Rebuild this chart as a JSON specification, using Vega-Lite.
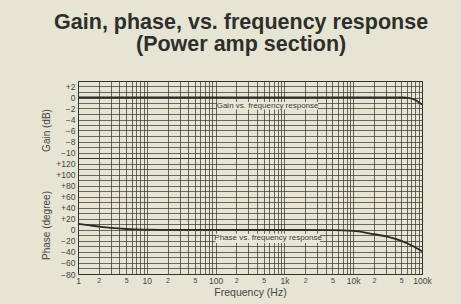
{
  "$schema": "https://vega.github.io/schema/vega-lite/v6.json",
  "autosize": {"type": "pad"},
  "padding": {"left": 40, "top": 12, "right": 40, "bottom": 5},
  "background": "#e6e4d3",
  "bounds": "flush",
  "title": {
    "text": ["Gain, phase, vs. frequency response", "(Power amp section)\u00a0\u00a0\u00a0\u00a0"],
    "font": "Liberation Sans",
    "fontSize": 21.5,
    "fontWeight": "bold",
    "color": "#2e2e2b",
    "lineHeight": 22,
    "anchor": "middle",
    "dx": 5,
    "offset": 21
  },
  "datasets": {
    "gain": [
      {"f": 1, "g": 0}, {"f": 10, "g": 0}, {"f": 100, "g": 0}, {"f": 1000, "g": 0},
      {"f": 10000, "g": 0}, {"f": 30000, "g": 0}, {"f": 55000, "g": 0},
      {"f": 63000, "g": -0.05}, {"f": 70000, "g": -0.18}, {"f": 80000, "g": -0.45},
      {"f": 90000, "g": -0.85}, {"f": 100000, "g": -1.3}
    ],
    "phase": [
      {"f": 1, "p": 11}, {"f": 1.5, "p": 8}, {"f": 2, "p": 6}, {"f": 3, "p": 3.5},
      {"f": 5, "p": 1.5}, {"f": 7, "p": 0.8}, {"f": 10, "p": 0.3}, {"f": 20, "p": 0},
      {"f": 100, "p": 0}, {"f": 1000, "p": 0}, {"f": 5000, "p": -0.5},
      {"f": 10000, "p": -2}, {"f": 15000, "p": -5}, {"f": 20000, "p": -8},
      {"f": 30000, "p": -12}, {"f": 50000, "p": -20}, {"f": 70000, "p": -28},
      {"f": 100000, "p": -39}
    ],
    "gainNote": [
      {"label": "Gain vs. frequency response", "f1": 105, "f2": 3080, "y1": -0.8, "y2": -2.2, "fc": 570, "yc": -1.5}
    ],
    "phaseNote": [
      {"label": "Phase vs. frequency response", "f1": 100, "f2": 3300, "y1": -7, "y2": -24, "fc": 580, "yc": -15}
    ]
  },
  "config": {
    "view": {"stroke": "#2e2e2b", "strokeWidth": 1},
    "axis": {
      "labelFont": "Liberation Sans",
      "labelColor": "#444",
      "titleFont": "Liberation Sans",
      "titleColor": "#444",
      "titleFontWeight": "normal",
      "ticks": false,
      "domain": false,
      "gridColor": "#35352f",
      "gridWidth": 0.8,
      "gridOpacity": 0.9,
      "labelOverlap": false,
      "labelFlush": false,
      "labelBound": false,
      "tickCount": 200
    }
  },
  "spacing": 0,
  "vconcat": [
    {
      "width": 344,
      "height": 77,
      "layer": [
        {
          "data": {"name": "gain"},
          "mark": {"type": "line", "color": "#2a2a26", "strokeWidth": 1.8, "interpolate": "monotone"},
          "encoding": {
            "x": {
              "field": "f", "type": "quantitative",
              "scale": {"type": "log", "domain": [1, 100000]},
              "axis": {
                "values": [1,2,3,4,5,6,7,8,9,10,20,30,40,50,60,70,80,90,100,200,300,400,500,600,700,800,900,1000,2000,3000,4000,5000,6000,7000,8000,9000,10000,20000,30000,40000,50000,60000,70000,80000,90000,100000],
                "labels": false,
                "title": null,
                "minExtent": 0,
                "maxExtent": 0,
                "labelPadding": 0,
                "offset": 0
              }
            },
            "y": {
              "field": "g", "type": "quantitative",
              "scale": {"domain": [-11, 3], "nice": false},
              "axis": {
                "values": [-11,-10,-9,-8,-7,-6,-5,-4,-3,-2,-1,0,1,2,3],
                "tickCount": 200,
                "labelExpr": "(datum.value % 2 == 0 && datum.value >= -10 && datum.value <= 2) ? (datum.value > 0 ? '+' + datum.value : (datum.value < 0 ? '\u2212' + abs(datum.value) : '0')) : ''",
                "labelFontSize": 8.5,
                "labelPadding": 3,
                "title": "Gain (dB)",
                "titleFontSize": 10,
                "titleX": -32,
                "titleY": 49,
                "titleAngle": -90,
                "titleBaseline": "middle",
                "titleAlign": "center"
              }
            }
          }
        },
        {
          "data": {"name": "gainNote"},
          "mark": {"type": "rect", "color": "#e8e7d9"},
          "encoding": {
            "x": {"field": "f1", "type": "quantitative"},
            "x2": {"field": "f2"},
            "y": {"field": "y1", "type": "quantitative"},
            "y2": {"field": "y2"}
          }
        },
        {
          "data": {"name": "gainNote"},
          "mark": {"type": "text", "font": "Liberation Sans", "fontSize": 8, "color": "#3a3a38"},
          "encoding": {
            "x": {"field": "fc", "type": "quantitative"},
            "y": {"field": "yc", "type": "quantitative"},
            "text": {"field": "label"}
          }
        }
      ]
    },
    {
      "width": 344,
      "height": 116,
      "layer": [
        {
          "data": {"name": "phase"},
          "mark": {"type": "line", "color": "#2a2a26", "strokeWidth": 1.8, "interpolate": "monotone"},
          "encoding": {
            "x": {
              "field": "f", "type": "quantitative",
              "scale": {"type": "log", "domain": [1, 100000]},
              "axis": {
                "values": [1,2,3,4,5,6,7,8,9,10,20,30,40,50,60,70,80,90,100,200,300,400,500,600,700,800,900,1000,2000,3000,4000,5000,6000,7000,8000,9000,10000,20000,30000,40000,50000,60000,70000,80000,90000,100000],
                "labelExpr": "datum.value == 1 ? '1' : datum.value == 10 ? '10' : datum.value == 100 ? '100' : datum.value == 1000 ? '1k' : datum.value == 10000 ? '10k' : datum.value == 100000 ? '100k' : (indexof([2,20,200,2000,20000], datum.value) >= 0 ? '2' : (indexof([5,50,500,5000,50000], datum.value) >= 0 ? '5' : ''))",
                "labelFontSize": {"condition": {"test": "indexof([1,10,100,1000,10000,100000], datum.value) >= 0", "value": 8.5}, "value": 7},
                "labelPadding": 2,
                "title": "Frequency (Hz)",
                "titleFontSize": 10.5,
                "titlePadding": 3
              }
            },
            "y": {
              "field": "p", "type": "quantitative",
              "scale": {"domain": [-80, 130], "nice": false},
              "axis": {
                "values": [-80,-70,-60,-50,-40,-30,-20,-10,0,10,20,30,40,50,60,70,80,90,100,110,120,130],
                "tickCount": 200,
                "labelExpr": "(datum.value % 20 == 0 && datum.value <= 120) ? (datum.value > 0 ? '+' + datum.value : (datum.value < 0 ? '\u2212' + abs(datum.value) : '0')) : ''",
                "labelFontSize": 8.5,
                "labelPadding": 3,
                "title": "Phase (degree)",
                "titleFontSize": 10,
                "titleX": -32,
                "titleY": 67,
                "titleAngle": -90,
                "titleBaseline": "middle",
                "titleAlign": "center"
              }
            }
          }
        },
        {
          "data": {"name": "phaseNote"},
          "mark": {"type": "rect", "color": "#e8e7d9"},
          "encoding": {
            "x": {"field": "f1", "type": "quantitative"},
            "x2": {"field": "f2"},
            "y": {"field": "y1", "type": "quantitative"},
            "y2": {"field": "y2"}
          }
        },
        {
          "data": {"name": "phaseNote"},
          "mark": {"type": "text", "font": "Liberation Sans", "fontSize": 8, "color": "#3a3a38"},
          "encoding": {
            "x": {"field": "fc", "type": "quantitative"},
            "y": {"field": "yc", "type": "quantitative"},
            "text": {"field": "label"}
          }
        }
      ]
    }
  ]
}
